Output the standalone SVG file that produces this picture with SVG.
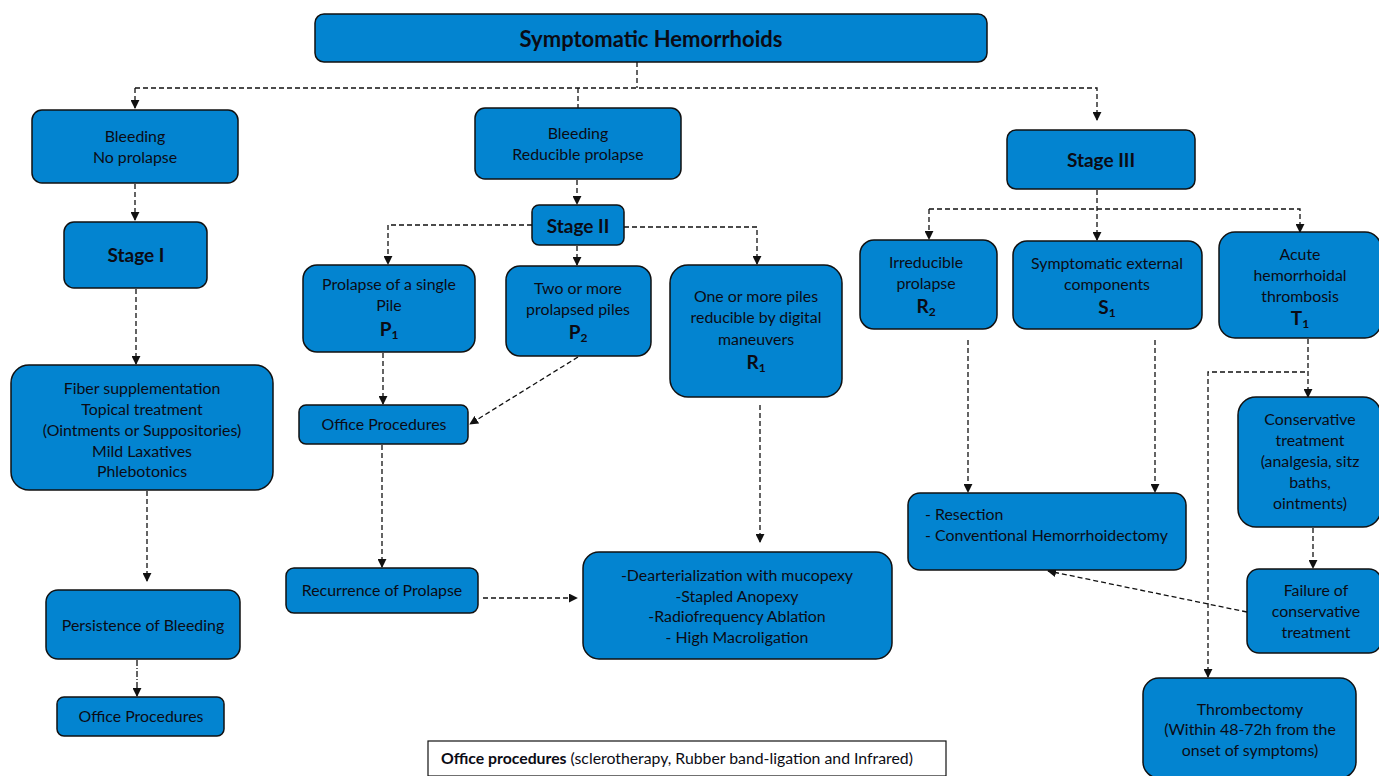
<svg xmlns="http://www.w3.org/2000/svg" width="1379" height="776" viewBox="0 0 1379 776">
<style>
.n{fill:#0384d0;stroke:#111;stroke-width:1.5}
text{font-family:Lato,"Open Sans","Liberation Sans",sans-serif;fill:#0b0b14;font-size:15.9px;text-anchor:middle}
.b{font-weight:bold;font-size:19px}
.s{font-size:12px}
.c path,.c line,.c polyline{fill:none;stroke:#111;stroke-width:1.3;stroke-dasharray:5 3}
</style>
<defs>
<marker id="a" viewBox="0 0 10 10" refX="9" refY="5" markerWidth="9" markerHeight="9" markerUnits="userSpaceOnUse" orient="auto"><path d="M0,0L10,5L0,10z" fill="#111"/></marker>
</defs>
<rect width="1379" height="776" fill="#fff"/>
<g class="c">
<polyline points="637,62 637,88"/>
<polyline points="135,88 1097,88 1097,120" marker-end="url(#a)"/>
<line x1="135" y1="88" x2="135" y2="108" marker-end="url(#a)"/>
<line x1="578" y1="88" x2="578" y2="108"/>
<line x1="135" y1="184" x2="135" y2="220" marker-end="url(#a)"/>
<line x1="136" y1="289" x2="136" y2="364" marker-end="url(#a)"/>
<line x1="147" y1="491" x2="147" y2="581" marker-end="url(#a)"/>
<line x1="137" y1="660" x2="137" y2="696" marker-end="url(#a)" style="stroke-dasharray:6 2 1 2"/>
<line x1="577" y1="180" x2="577" y2="204" marker-end="url(#a)"/>
<polyline points="532,225 388,225 388,264" marker-end="url(#a)"/>
<polyline points="624,227 757,227 757,264" marker-end="url(#a)"/>
<line x1="577" y1="246" x2="577" y2="265" marker-end="url(#a)"/>
<line x1="383" y1="353" x2="383" y2="404" marker-end="url(#a)"/>
<line x1="578" y1="357" x2="470" y2="424" marker-end="url(#a)"/>
<line x1="382" y1="445" x2="382" y2="567" marker-end="url(#a)"/>
<line x1="483" y1="598" x2="577" y2="598" marker-end="url(#a)"/>
<line x1="760" y1="405" x2="760" y2="542" marker-end="url(#a)"/>
<line x1="1097" y1="190" x2="1097" y2="240" marker-end="url(#a)"/>
<polyline points="929,209 1300,209 1300,232" marker-end="url(#a)"/>
<line x1="929" y1="209" x2="929" y2="239" marker-end="url(#a)"/>
<line x1="968" y1="340" x2="968" y2="492" marker-end="url(#a)"/>
<line x1="1155" y1="340" x2="1155" y2="492" marker-end="url(#a)"/>
<line x1="1308" y1="339" x2="1308" y2="397" marker-end="url(#a)"/>
<polyline points="1305,372 1208,372 1208,677" marker-end="url(#a)"/>
<line x1="1313" y1="528" x2="1313" y2="568" marker-end="url(#a)"/>
<line x1="1247" y1="612" x2="1048" y2="571" marker-end="url(#a)"/>
</g>
<g id="root"><rect class="n" x="315" y="14" width="672" height="48" rx="9"/><text x="651" y="47" style="font-weight:bold;font-size:22px">Symptomatic Hemorrhoids</text></g>
<g id="bleed1"><rect class="n" x="32" y="110" width="206" height="73" rx="10"/><text x="135" y="142">Bleeding</text><text x="135" y="163">No prolapse</text></g>
<g id="bleed2"><rect class="n" x="475" y="108" width="206" height="71" rx="10"/><text x="578" y="139">Bleeding</text><text x="578" y="160">Reducible prolapse</text></g>
<g id="stage3"><rect class="n" x="1007" y="130" width="188" height="59" rx="9"/><text class="b" x="1101" y="167">Stage III</text></g>
<g id="stage1"><rect class="n" x="64" y="222" width="143" height="66" rx="10"/><text class="b" x="136" y="262">Stage I</text></g>
<g id="stage2"><rect class="n" x="532" y="205" width="92" height="40" rx="7"/><text class="b" x="578" y="233">Stage II</text></g>
<g id="fiber"><rect class="n" x="11" y="365" width="262" height="125" rx="18"/><text x="142" y="394">Fiber supplementation</text><text x="142" y="415">Topical treatment</text><text x="142" y="436">(Ointments or Suppositories)</text><text x="142" y="457">Mild Laxatives</text><text x="142" y="477">Phlebotonics</text></g>
<g id="persist"><rect class="n" x="46" y="590" width="194" height="69" rx="12"/><text x="143" y="631">Persistence of Bleeding</text></g>
<g id="office1"><rect class="n" x="57" y="697" width="167" height="39" rx="7"/><text x="141" y="722">Office Procedures</text></g>
<g id="p1"><rect class="n" x="303" y="265" width="172" height="87" rx="14"/><text x="389" y="290">Prolapse of a single</text><text x="389" y="311">Pile</text><text class="b" x="389" y="336">P<tspan class="s" dy="3">1</tspan></text></g>
<g id="p2"><rect class="n" x="506" y="266" width="145" height="90" rx="14"/><text x="578" y="294">Two or more</text><text x="578" y="315">prolapsed piles</text><text class="b" x="578" y="339">P<tspan class="s" dy="3">2</tspan></text></g>
<g id="r1"><rect class="n" x="670" y="265" width="172" height="132" rx="18"/><text x="756" y="302">One or more piles</text><text x="756" y="323">reducible by digital</text><text x="756" y="345">maneuvers</text><text class="b" x="756" y="369">R<tspan class="s" dy="3">1</tspan></text></g>
<g id="office2"><rect class="n" x="299" y="405" width="169" height="39" rx="7"/><text x="384" y="430">Office Procedures</text></g>
<g id="recur"><rect class="n" x="286" y="568" width="192" height="45" rx="8"/><text x="382" y="596">Recurrence of Prolapse</text></g>
<g id="dearter"><rect class="n" x="583" y="552" width="309" height="107" rx="16"/><text x="737" y="581">-Dearterialization with mucopexy</text><text x="737" y="602">-Stapled Anopexy</text><text x="737" y="622">-Radiofrequency Ablation</text><text x="737" y="643">- High Macroligation</text></g>
<g id="r2"><rect class="n" x="860" y="240" width="137" height="89" rx="14"/><text x="926" y="268">Irreducible</text><text x="926" y="289">prolapse</text><text class="b" x="926" y="313">R<tspan class="s" dy="3">2</tspan></text></g>
<g id="s1"><rect class="n" x="1013" y="241" width="189" height="88" rx="14"/><text x="1107" y="269">Symptomatic external</text><text x="1107" y="290">components</text><text class="b" x="1107" y="314">S<tspan class="s" dy="3">1</tspan></text></g>
<g id="t1"><rect class="n" x="1219" y="232" width="162" height="106" rx="16"/><text x="1300" y="260">Acute</text><text x="1300" y="281">hemorrhoidal</text><text x="1300" y="302">thrombosis</text><text class="b" x="1300" y="325">T<tspan class="s" dy="3">1</tspan></text></g>
<g id="resect"><rect class="n" x="908" y="493" width="278" height="77" rx="12"/><text x="925" y="520" style="text-anchor:start">- Resection</text><text x="925" y="541" style="text-anchor:start">- Conventional Hemorrhoidectomy</text></g>
<g id="conserv"><rect class="n" x="1238" y="397" width="143" height="130" rx="18"/><text x="1310" y="425">Conservative</text><text x="1310" y="446">treatment</text><text x="1310" y="467">(analgesia, sitz</text><text x="1310" y="488">baths,</text><text x="1310" y="509">ointments)</text></g>
<g id="failure"><rect class="n" x="1247" y="569" width="134" height="84" rx="12"/><text x="1316" y="596">Failure of</text><text x="1316" y="617">conservative</text><text x="1316" y="638">treatment</text></g>
<g id="thromb"><rect class="n" x="1143" y="678" width="213" height="100" rx="16"/><text x="1250" y="715">Thrombectomy</text><text x="1250" y="735">(Within 48-72h from the</text><text x="1250" y="756">onset of symptoms)</text></g>
<g id="legend"><rect x="428" y="741" width="518" height="35" fill="#fff" stroke="#111" stroke-width="1.2"/><text x="441" y="764" style="text-anchor:start;font-size:15.8px"><tspan font-weight="bold">Office procedures</tspan> (sclerotherapy, Rubber band-ligation and Infrared)</text></g>
</svg>
